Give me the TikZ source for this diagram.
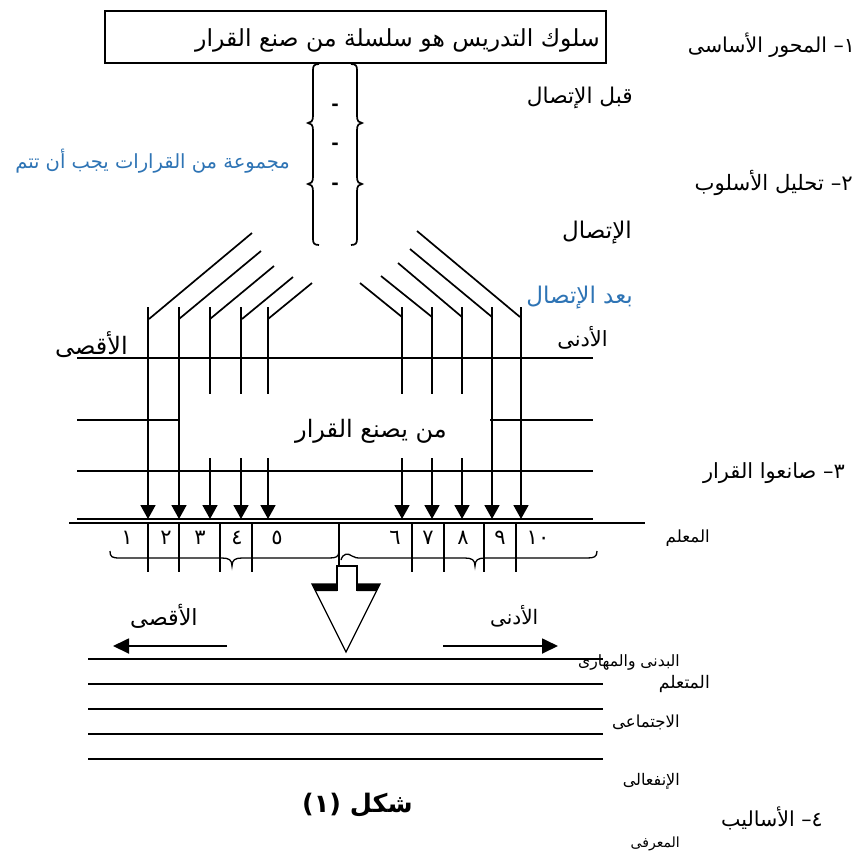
\documentclass[tikz,border=0pt]{standalone}
\usepackage{fontspec}
\usetikzlibrary{arrows.meta}
\TeXXeTstate=1
\newfontfamily\arabicfont[Script=Arabic]{DejaVu Sans}
\newfontfamily\latfont{DejaVu Sans}
\newcommand{\AR}[1]{\beginR #1\endR}
\definecolor{wordblue}{RGB}{46,116,181}
\begin{document}
\begin{tikzpicture}[x=1pt,y=-1pt,
  lbl/.style={inner sep=0pt, font=\arabicfont\fontsize{#1}{#1}\selectfont},
  num/.style={inner sep=0pt, font=\arabicfont\fontsize{21}{21}\selectfont},
  ttl/.style={inner sep=0pt, font=\arabicfont\bfseries\fontsize{25.5}{26}\selectfont},
  hyph/.style={inner sep=0pt, font=\latfont\bfseries\fontsize{18}{18}\selectfont},
  ln/.style={line width=1.7pt},
  thin/.style={line width=1.3pt},
  dn/.style={line width=1.8pt, -{Triangle[length=14pt,width=15pt]}},
  side/.style={line width=1.8pt, -{Triangle[length=16pt,width=15pt]}}]
\useasboundingbox (0,0) rectangle (857,855);
\fill[white] (0,0) rectangle (857,855);

% top box
\node[draw, line width=1.6pt, minimum width=501pt, minimum height=52pt, inner sep=0pt] (top) at (355.5,37) {};
\node[lbl=23.5, anchor=east] (toptext) at (600,40) {\AR{سلوك التدريس هو سلسلة من صنع القرار}};

% stacked braces
\draw[ln] (319,64) .. controls (314,64) and (313,66) .. (313,70) -- (313,116)
  .. controls (313,121) and (311,123) .. (308,123) .. controls (311,123) and (313,125) .. (313,130)
  -- (313,177) .. controls (313,182) and (311,184) .. (308,184) .. controls (311,184) and (313,186) .. (313,191)
  -- (313,239) .. controls (313,243) and (314,245) .. (319,245);
\draw[ln] (351,64) .. controls (356,64) and (357,66) .. (357,70) -- (357,116)
  .. controls (357,121) and (359,123) .. (362,123) .. controls (359,123) and (357,125) .. (357,130)
  -- (357,177) .. controls (357,182) and (359,184) .. (362,184) .. controls (359,184) and (357,186) .. (357,191)
  -- (357,239) .. controls (357,243) and (356,245) .. (351,245);
\node[hyph] (d1) at (335,107) {-};
\node[hyph] (d2) at (335,146) {-};
\node[hyph] (d3) at (335,186) {-};

% diagonals left
\draw[ln] (149,319) -- (252,233);
\draw[ln] (179,319) -- (261,251);
\draw[ln] (210,319) -- (274,266);
\draw[ln] (242,319) -- (293,277);
\draw[ln] (268,319) -- (312,283);
% diagonals right
\draw[ln] (402,317) -- (360,283);
\draw[ln] (432,317) -- (381,276);
\draw[ln] (462,317) -- (398,263);
\draw[ln] (492,317) -- (410,249);
\draw[ln] (520,317) -- (417,231);

% horizontal lines
\draw[ln] (77,358) -- (593,358);
\draw[ln] (77,420) -- (179,420);
\draw[ln] (490,420) -- (593,420);
\draw[ln] (77,471) -- (593,471);
\draw[ln] (77,519) -- (593,519);
\draw[ln] (69,523) -- (645,523);

% arrows down
\draw[dn] (148,307) -- (148,519);
\draw[dn] (179,307) -- (179,519);
\draw[ln] (210,307) -- (210,394); \draw[dn] (210,458) -- (210,519);
\draw[ln] (241,307) -- (241,394); \draw[dn] (241,458) -- (241,519);
\draw[ln] (268,307) -- (268,394); \draw[dn] (268,458) -- (268,519);
\draw[ln] (402,307) -- (402,394); \draw[dn] (402,458) -- (402,519);
\draw[ln] (432,307) -- (432,394); \draw[dn] (432,458) -- (432,519);
\draw[ln] (462,307) -- (462,394); \draw[dn] (462,458) -- (462,519);
\draw[dn] (492,307) -- (492,519);
\draw[dn] (521,307) -- (521,519);

% separators
\foreach \x in {148,179,220,252,412,444,484,516} \draw[ln] (\x,523) -- (\x,572);
\draw[ln] (339,523) -- (339,566);

% numbers
\node[num] (n1) at (127,538) {١};
\node[num] (n2) at (166,538) {٢};
\node[num] (n3) at (200,538) {٣};
\node[num] (n4) at (237,538) {٤};
\node[num] (n5) at (277,538) {٥};
\node[num] (n6) at (395,538) {٦};
\node[num] (n7) at (428,538) {٧};
\node[num] (n8) at (463,538) {٨};
\node[num] (n9) at (500,538) {٩};
\node[num] (n10) at (538,538) {١\kern0pt ٠};

% underbraces
\draw[thin] (110,551) .. controls (110,557) and (112,558) .. (120,558) -- (222,558)
  .. controls (229,558) and (232,560) .. (232,566) .. controls (232,560) and (235,558) .. (242,558)
  -- (329,558) .. controls (336,558) and (339,557) .. (339,551);
\draw[thin] (341,560) .. controls (343,553) and (348,553) .. (352,556) .. controls (355,558) and (357,558) .. (362,558)
  -- (465,558) .. controls (472,558) and (475,560) .. (475,566) .. controls (475,560) and (478,558) .. (485,558)
  -- (587,558) .. controls (594,558) and (597,557) .. (597,551);

% hollow arrow
\draw[thin, fill=white] (312,584) -- (380,584) -- (346,652) -- cycle;
\fill (312,584) -- (337,584) -- (337,591) -- (315.5,591) -- cycle;
\fill (357,584) -- (380,584) -- (376.5,591) -- (357,591) -- cycle;
\draw[thin, fill=white] (337,591) -- (337,566) -- (357,566) -- (357,591);

% side arrows
\draw[side] (227,646) -- (113,646);
\draw[side] (443,646) -- (558,646);

% bottom lines
\foreach \y in {659,684,709,734,759} \draw[ln] (88,\y) -- (603,\y);

% labels
\node[lbl=20.5, anchor=east] (l1) at (855,45) {\AR{المحور الأساسى}\ {\latfont –}\kern0pt ١};
\node[lbl=21.7, anchor=east] (l2) at (633,98) {\AR{قبل الإتصال}};
\node[lbl=19.5, anchor=east, text=wordblue] (l3) at (290,161) {\AR{مجموعة من القرارات يجب أن تتم}};
\node[lbl=21.2, anchor=east] (l4) at (853,183) {\AR{تحليل الأسلوب}\ {\latfont –}\kern0pt ٢};
\node[lbl=23, anchor=east] (l5) at (632,233) {\AR{الإتصال}};
\node[lbl=23, anchor=east, text=wordblue] (l6) at (633,298) {\AR{بعد الإتصال}};
\node[lbl=21, anchor=east] (l7) at (608,338) {\AR{الأدنى}};
\node[lbl=24, anchor=west] (l8) at (55,345) {\AR{الأقصى}};
\node[lbl=24, anchor=west] (l9) at (295,431) {\AR{من يصنع القرار}};
\node[lbl=20.9, anchor=east] (l10) at (845,473) {\AR{صانعوا القرار}\ {\latfont –}\kern0pt ٣};
\node[lbl=16.7, anchor=east] (l11) at (710,538) {\AR{المعلم}};
\node[lbl=22.3, anchor=west] (l12) at (130,616) {\AR{الأقصى}};
\node[lbl=20, anchor=west] (l13) at (490,616) {\AR{الأدنى}};
\node[lbl=15.6, anchor=east] (l14) at (680,662) {\AR{البدنى والمهارى}};
\node[lbl=17.3, anchor=east] (l15) at (710,684) {\AR{المتعلم}};
\node[lbl=16.6, anchor=east] (l16) at (680,722) {\AR{الاجتماعى}};
\node[lbl=16, anchor=east] (l17) at (680,781) {\AR{الإنفعالى}};
\node[lbl=20.6, anchor=east] (l18) at (823,818) {\AR{الأساليب}\ {\latfont –}\kern0pt ٤};
\node[lbl=14, anchor=east] (l19) at (680,844) {\AR{المعرفى}};
\node[ttl, anchor=west] (fig) at (302,805) {{\latfont\bfseries (}\kern0pt ١\kern0pt{\latfont\bfseries )} \AR{شكل}};
\end{tikzpicture}
\end{document}
